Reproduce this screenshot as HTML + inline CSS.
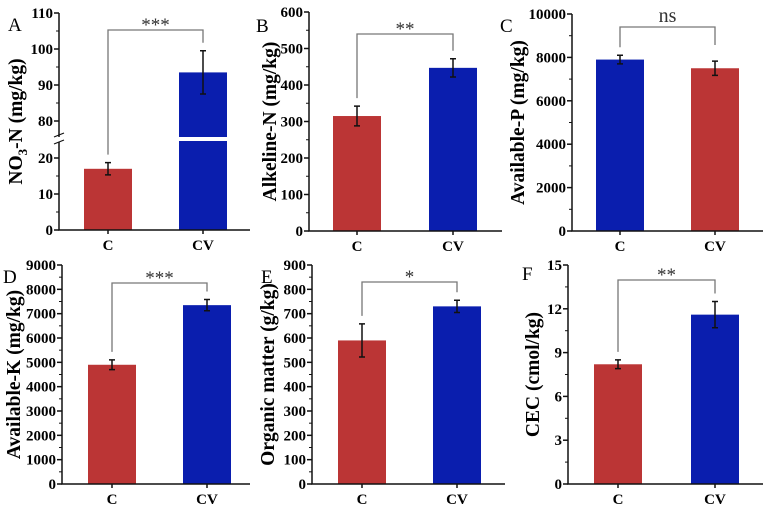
<!DOCTYPE html>
<html><head><meta charset="utf-8"><style>
body{margin:0;background:#fff}
svg{display:block;font-family:"Liberation Serif",serif}
.tk{font-size:15px;font-weight:bold}
.tt{font-size:19.5px;font-weight:bold}
.pl{font-size:19px}
</style></head><body>
<svg id="c" width="767" height="510" viewBox="0 0 767 510"></svg>
<script>
const categories=["C","CV"];
const valsA=[17,93.5], errA=[1.7,6];
const valsB=[315,447], errB=[27,25];
const valsC=[7900,7500], errC=[200,330];
const valsD=[4900,7350], errD=[200,230];
const valsE=[590,730], errE=[68,25];
const valsF=[8.2,11.6], errF=[0.3,0.9];
const ticksA=[0,10,20,80,90,100,110];
const ticksB=[0,100,200,300,400,500,600];
const ticksC=[0,2000,4000,6000,8000,10000];
const ticksD=[0,1000,2000,3000,4000,5000,6000,7000,8000,9000];
const ticksE=[0,100,200,300,400,500,600,700,800,900];
const ticksF=[0,3,6,9,12,15];
const sigs=["***","**","ns","***","*","**"];
const RED="#bb3535",BLUE="#0a1eae";
const svg=document.getElementById('c');
const NS="http://www.w3.org/2000/svg";
function mk(t,a,txt){const e=document.createElementNS(NS,t);for(const k in a)e.setAttribute(k,a[k]);if(txt!==undefined)e.textContent=txt;svg.appendChild(e);return e;}

function panel(o){
  let y;
  if(o.brk){
    y=v=>{ if(v<=50) return o.bot-(v/10)*36; return o.top+(110-v)/10*36; };
  } else y=v=>o.bot-(v/o.max)*(o.bot-o.top);
  for(let i=0;i<2;i++){
    const x0=o.cx[i]-24, yt=y(o.vals[i]);
    if(o.brk && o.vals[i]>50){
      let r=mk('rect',{x:x0,y:yt,width:48,height:137-yt,fill:o.colors[i]});
      
      r=mk('rect',{x:x0,y:141,width:48,height:o.bot-141,fill:o.colors[i]});
      
    } else {
      const r=mk('rect',{x:x0,y:yt,width:48,height:o.bot-yt,fill:o.colors[i]});
      
    }
    const e1=y(o.vals[i]+o.errs[i]),e2=y(o.vals[i]-o.errs[i]);
    const g=mk('path',{d:`M${o.cx[i]},${e1}V${e2}M${o.cx[i]-3},${e1}h6M${o.cx[i]-3},${e2}h6`,stroke:'#111','stroke-width':1.5,fill:'none'});
    
    const t=mk('text',{x:o.cx[i],y:o.bot+20,'text-anchor':'middle',class:'tk'},categories[i]);
    
    mk('line',{x1:o.cx[i],x2:o.cx[i],y1:o.bot,y2:o.bot+4,stroke:'#111','stroke-width':1.5});
  }
  if(o.brk){
    mk('path',{d:`M${o.ax},${o.top}V137M${o.ax},142V${o.bot}H${o.xend}`,stroke:'#111','stroke-width':1.5,fill:'none'});
    mk('path',{d:`M${o.ax-5},137l10,-4M${o.ax-5},144l10,-4`,stroke:'#111','stroke-width':1.2});
  } else {
    const a=mk('path',{d:`M${o.ax},${o.top}V${o.bot}H${o.xend}`,stroke:'#111','stroke-width':1.5,fill:'none'});
    
  }
  o.ticks.forEach((v,i)=>{
    const yy=y(v);
    mk('line',{x1:o.ax-5,x2:o.ax,y1:yy,y2:yy,stroke:'#111','stroke-width':1.5});
    const t=mk('text',{x:o.ax-6,y:yy+5,'text-anchor':'end',class:'tk'},String(v));
    
    if(i<o.ticks.length-1){
      const nv=o.ticks[i+1];
      if(!(o.brk&&v==20)){const ym=y((v+nv)/2);mk('line',{x1:o.ax-3,x2:o.ax,y1:ym,y2:ym,stroke:'#111','stroke-width':1});}
    }
  });
  const tt=mk('text',{transform:`translate(${o.tx},${(o.top+o.bot)/2}) rotate(-90)`,'text-anchor':'middle',class:'tt'});
  tt.innerHTML=o.title;
  
  const L=mk('text',{x:o.lx,y:o.ly,class:'pl'},o.letter);
  
  const l1=y(o.vals[0]+o.errs[0])-8,l2=Math.min(y(o.vals[1]+o.errs[1])-8,o.by+18);
  const b=mk('path',{d:`M${o.cx[0]},${l1}V${o.by}H${o.cx[1]}V${l2}`,stroke:'#777','stroke-width':1.3,fill:'none'});
  
  const s=mk('text',{x:(o.cx[0]+o.cx[1])/2,y:o.by-(o.sig=='ns'?5:-1),'text-anchor':'middle','font-size':o.sig=='ns'?20:19,fill:'#333'},o.sig);
  
}
panel({id:'a',ax:59,top:13,bot:230,xend:250,cx:[108,203],vals:valsA,errs:errA,ticks:ticksA,brk:true,colors:[RED,BLUE],title:'NO<tspan font-size="13" dy="5">3</tspan><tspan dy="-5">-N (mg/kg)</tspan>',tx:22,letter:'A',lx:8,ly:31,sig:sigs[0],by:30});
panel({id:'b',ax:309,top:12,bot:231,xend:502,cx:[357,453],vals:valsB,errs:errB,ticks:ticksB,max:600,colors:[RED,BLUE],title:'Alkeline-N (mg/kg)',tx:276,letter:'B',lx:256,ly:32,sig:sigs[1],by:34});
panel({id:'c',ax:572,top:14,bot:231,xend:763,cx:[620,715],vals:valsC,errs:errC,ticks:ticksC,max:10000,colors:[BLUE,RED],title:'Available-P (mg/kg)',tx:524,letter:'C',lx:500,ly:32,sig:sigs[2],by:27});
panel({id:'d',ax:62,top:265,bot:484,xend:250,cx:[112,207],vals:valsD,errs:errD,ticks:ticksD,max:9000,colors:[RED,BLUE],title:'Available-K (mg/kg)',tx:20,letter:'D',lx:3,ly:283,sig:sigs[3],by:283});
panel({id:'e',ax:312,top:265,bot:484,xend:505,cx:[362,457],vals:valsE,errs:errE,ticks:ticksE,max:900,colors:[RED,BLUE],title:'Organic matter (g/kg)',tx:274,letter:'E',lx:261,ly:283,sig:sigs[4],by:282});
panel({id:'f',ax:568,top:265,bot:484,xend:763,cx:[618,715],vals:valsF,errs:errF,ticks:ticksF,max:15,colors:[RED,BLUE],title:'CEC (cmol/kg)',tx:539,letter:'F',lx:522,ly:280,sig:sigs[5],by:280});
</script>
</body></html>
